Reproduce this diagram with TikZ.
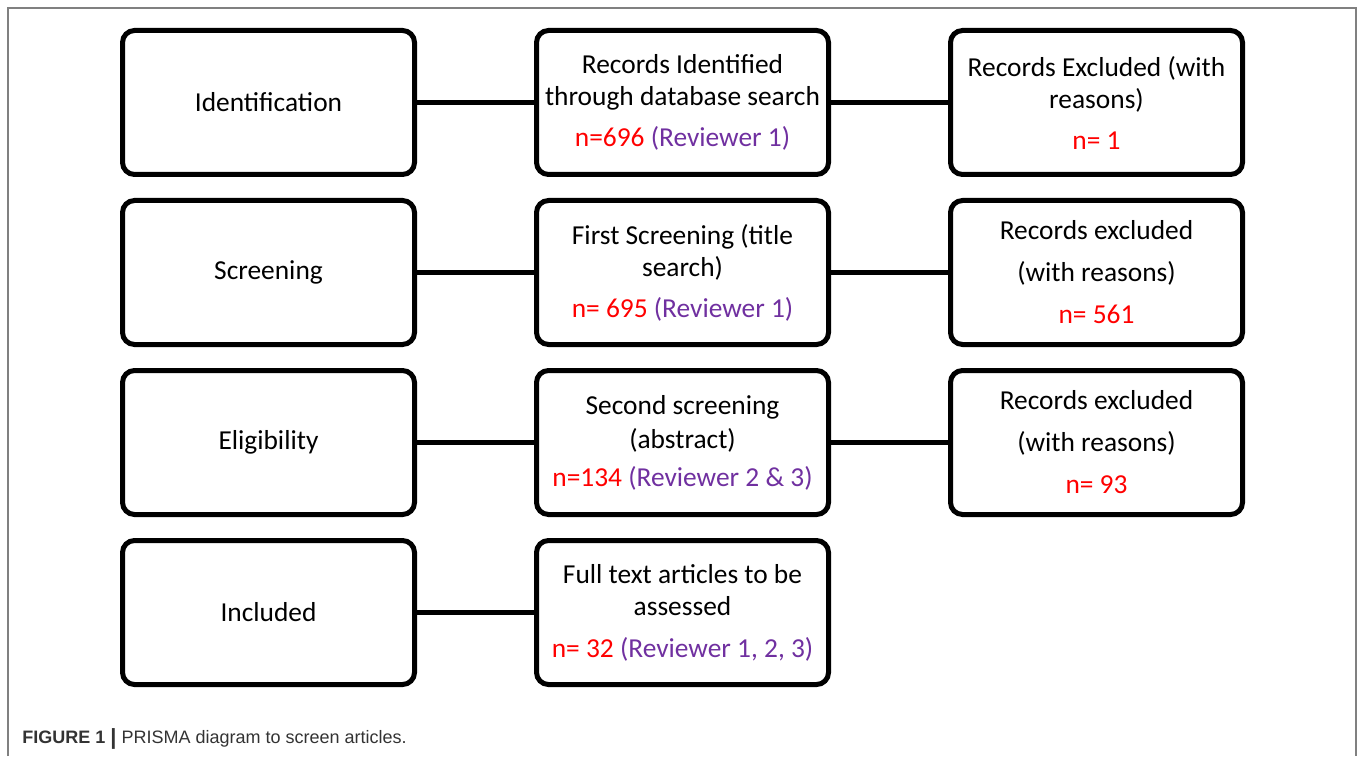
\documentclass[tikz,border=0pt]{standalone}
\usepackage{fontspec}
\setmainfont{Carlito}
\newfontfamily\capfont{Liberation Sans}
\usetikzlibrary{positioning}
\definecolor{numred}{HTML}{FF0000}
\definecolor{revpurple}{HTML}{7030A0}
\newcommand{\cnt}[1]{\textcolor{numred}{#1}}
\newcommand{\rev}[1]{\textcolor{revpurple}{#1}}

\begin{document}
\begin{tikzpicture}[x=0.5pt, y=0.5pt, node distance=10.5pt and 58.5pt, font=\fontsize{13.7}{16}\selectfont,
	stagebox/.style={draw, line width=2.5pt, rounded corners=6pt, minimum width=146pt, minimum height=72pt, align=center, inner sep=2pt},
	link/.style={line width=2.5pt}]
		\useasboundingbox (0,0) rectangle (1358,756);
		\draw[gray, line width=1pt] (8,0) -- (8,748) -- (1356,748) -- (1356,0);
		
		\node[stagebox] (ident) at (268.5,653.5) {Identification};
		\node[stagebox,right=of ident] (records) {Records Identified\\through database search\\[4.5pt]\cnt{n=696} \rev{(Reviewer 1)}};
		\node[stagebox,right=of records] (excl1) {Records Excluded (with\\reasons)\\[4.5pt]\cnt{n= 1}};
		
		\node[stagebox,below=of ident] (screen) {Screening};
		\node[stagebox,right=of screen] (first) {First Screening (title\\search)\\[4.5pt]\cnt{n= 695} \rev{(Reviewer 1)}};
		\node[stagebox,right=of first] (excl2) {Records excluded\\[5pt](with reasons)\\[5pt]\cnt{n= 561}};
		
		\node[stagebox,below=of screen] (elig) {Eligibility};
		\node[stagebox,right=of elig] (second) {Second screening\\[1pt](abstract)\\[3pt]\cnt{n=134} \rev{(Reviewer 2 \& 3)}};
		\node[stagebox,right=of second] (excl3) {Records excluded\\[5pt](with reasons)\\[5pt]\cnt{n= 93}};
		
		\node[stagebox,below=of elig] (incl) {Included};
		\node[stagebox,right=of incl] (full) {Full text articles to be\\assessed\\[5pt]\cnt{n= 32} \rev{(Reviewer 1, 2, 3)}};
		
		\draw[link] (ident) -- (records);
		\draw[link] (records) -- (excl1);
		\draw[link] (screen) -- (first);
		\draw[link] (first) -- (excl2);
		\draw[link] (elig) -- (second);
		\draw[link] (second) -- (excl3);
		\draw[link] (incl) -- (full);
		
		\node[anchor=base west, inner sep=0pt, text=black!80, font=\capfont\fontsize{9}{11}\selectfont] (caption) at (22,13) {\textbf{FIGURE 1 \raisebox{-0.15ex}{\fontsize{11}{11}\selectfont|}} PRISMA diagram to screen articles.};
	\end{tikzpicture}
\end{document}
